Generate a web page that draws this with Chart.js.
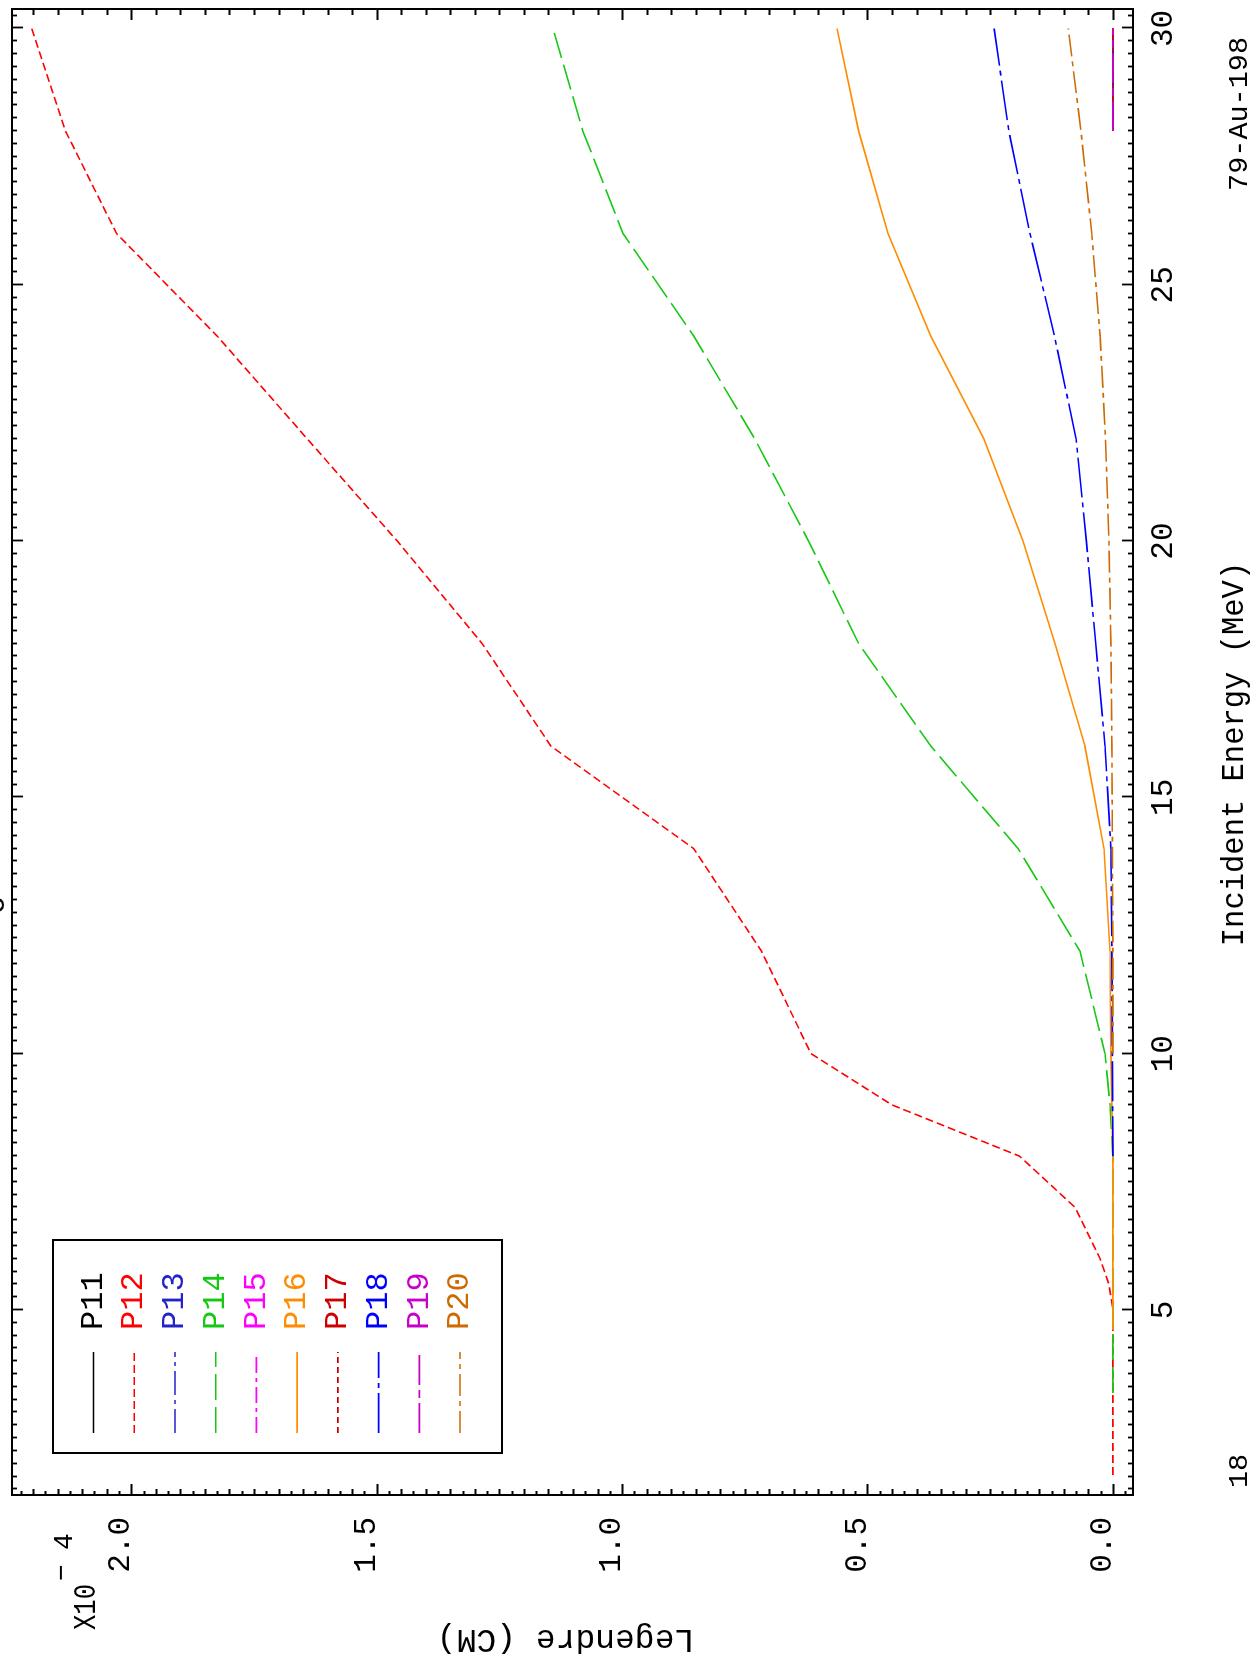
<!DOCTYPE html>
<html>
<head>
<meta charset="utf-8">
<title>Legendre (CM) vs Incident Energy</title>
<script src="https://cdn.jsdelivr.net/npm/chart.js@4"></script>
<style>
  html, body { margin: 0; padding: 0; background: #fff; }
  body { width: 1255px; height: 1662px; overflow: hidden; position: relative; }
  /* the plot is laid out in landscape and turned a quarter turn onto the portrait page */
  #wrap { position: absolute; left: 0; top: 0; width: 1662px; height: 1255px;
          transform-origin: 0 0; transform: translate(0, 1662px) rotate(-90deg); }
  canvas { display: block; }
</style>
</head>
<body>
<div id="wrap"><canvas id="c" width="1662" height="1255"></canvas></div>
<script>
// ---- data: Legendre coefficients (units of 1e-4) vs incident energy (MeV) ----
const seriesNames = ['P11', 'P12', 'P13', 'P14', 'P15', 'P16', 'P17', 'P18', 'P19', 'P20'];

const p11E = [28, 30];
const p11V = [0, 0];

const p12E = [1.78, 5, 5.5, 6, 7, 8, 9, 10, 12, 14, 16, 18, 20, 22, 24, 26, 28, 30];
const p12V = [0, 0, 0.008, 0.026, 0.077, 0.19, 0.45, 0.615, 0.716, 0.854, 1.145, 1.285, 1.458, 1.642, 1.825, 2.03, 2.134, 2.203];

const p13E = [28, 30];
const p13V = [0, 0];

const p14E = [3.38, 8, 9, 10, 12, 14, 16, 18, 20, 22, 24, 26, 28, 30];
const p14V = [0, 0, 0.006, 0.016, 0.067, 0.193, 0.371, 0.518, 0.62, 0.73, 0.854, 0.998, 1.08, 1.141];

const p15E = [28, 30];
const p15V = [0, 0];

const p16E = [4.61, 8, 10, 12, 14, 16, 18, 20, 22, 24, 26, 28, 30];
const p16V = [0, 0, 0.004, 0.006, 0.018, 0.057, 0.118, 0.183, 0.263, 0.371, 0.458, 0.518, 0.562];

const p17E = [28, 30];
const p17V = [0, 0];

const p18E = [8, 10, 12, 14, 16, 18, 20, 22, 24, 26, 28, 30];
const p18V = [0, 0.001, 0.002, 0.004, 0.016, 0.035, 0.054, 0.075, 0.119, 0.169, 0.212, 0.242];

const p19E = [28, 30];
const p19V = [0, 0];

const p20E = [10, 12, 14, 16, 18, 20, 22, 24, 26, 28, 30];
const p20V = [0, 0, 0.001, 0.002, 0.004, 0.008, 0.015, 0.026, 0.043, 0.065, 0.091];

const energyTicks = [5, 10, 15, 20, 25, 30];
const legendreTicks = [0.0, 0.5, 1.0, 1.5, 2.0];

// ---- styling ----
const FONT = '"Liberation Mono", "Courier New", monospace';
const seriesColors = ['#000000', '#ff0000', '#2323c8', '#14c814', '#ff00ff',
                      '#ff8c00', '#cc0000', '#0000ff', '#c800c8', '#cd6a00'];
const seriesDashes = [[], [8, 4], [24, 5, 4, 5], [26, 7], [16, 5, 4, 5],
                      [], [6, 4], [40, 5, 5, 5], [30, 5, 8, 5], [22, 5, 5, 5]];

const allE = [p11E, p12E, p13E, p14E, p15E, p16E, p17E, p18E, p19E, p20E];
const allV = [p11V, p12V, p13V, p14V, p15V, p16V, p17V, p18V, p19V, p20V];

const datasets = seriesNames.map((name, i) => ({
  label: name,
  data: allE[i].map((e, k) => ({ x: e, y: allV[i][k] })),
  borderColor: seriesColors[i],
  backgroundColor: seriesColors[i],
  borderDash: seriesDashes[i],
  borderWidth: 1.6,
  pointRadius: 0,
  fill: false,
  tension: 0,
  order: seriesNames.length - i   // later curves are painted over earlier ones
}));

// frame, inward ticks on all four sides, titles and the legend box
const decorations = {
  id: 'decorations',
  afterDatasetsDraw(chart) {
    const ctx = chart.ctx;
    const a = chart.chartArea;
    const xs = chart.scales.x, ys = chart.scales.y;
    ctx.save();
    ctx.strokeStyle = '#000';
    ctx.fillStyle = '#000';

    // ticks along the energy axis (bottom and top edges)
    ctx.lineWidth = 1.8;
    ctx.beginPath();
    for (let k = Math.ceil(xs.min / 0.25); k * 0.25 <= xs.max; k++) {
      const p = Math.round(xs.getPixelForValue(k * 0.25)) + 0.5;
      const len = (k % 20 === 0) ? 11 : 5;
      ctx.moveTo(p, a.bottom); ctx.lineTo(p, a.bottom - len);
      ctx.moveTo(p, a.top); ctx.lineTo(p, a.top + len);
    }
    // ticks along the Legendre axis (left and right edges)
    for (let k = Math.ceil(ys.min / 0.025); k * 0.025 <= ys.max; k++) {
      const p = Math.round(ys.getPixelForValue(k * 0.025)) + 0.5;
      const major = (k % 20 === 0);
      const mid = (k % 2 === 0);
      const lenL = major ? 11 : (mid ? 6 : 4);
      ctx.moveTo(a.left, p); ctx.lineTo(a.left + lenL, p);
      if (mid) {
        const lenR = major ? 11 : 6;
        ctx.moveTo(a.right, p); ctx.lineTo(a.right - lenR, p);
      }
    }
    ctx.stroke();

    // frame
    ctx.lineWidth = 2;
    ctx.strokeRect(a.left, a.top, a.right - a.left, a.bottom - a.top);

    // heading line, cut by the page edge
    ctx.textBaseline = 'alphabetic';
    ctx.textAlign = 'center';
    ctx.font = '31px ' + FONT;
    ctx.fillText('o', 757, 4);

    // axis titles
    ctx.font = '30.5px ' + FONT;
    ctx.fillText('Incident Energy (MeV)', (a.left + a.right) / 2 - 2, 1243);

    ctx.save();
    ctx.translate(32, 565.5);
    ctx.rotate(-Math.PI / 2);
    ctx.textAlign = 'center';
    ctx.font = '33px ' + FONT;
    ctx.fillText('Legendre (CM)', 0, 0);
    ctx.restore();

    // scale factor  X10^-4
    ctx.textAlign = 'left';
    ctx.save();
    ctx.translate(32, 95);
    ctx.scale(0.8, 1);
    ctx.font = '32px ' + FONT;
    ctx.fillText('X10', 0, 0);
    ctx.restore();
    ctx.font = '28px ' + FONT;
    ctx.fillText('\u2212', 81, 70);
    ctx.fillText('4', 112, 72);

    // footer labels
    ctx.font = '28.5px ' + FONT;
    ctx.fillText('18', 174, 1247);
    ctx.textAlign = 'right';
    ctx.fillText('79-Au-198', 1625, 1247);

    // legend box
    const bx = 209, by = 53, bw = 213, bh = 449;
    ctx.fillStyle = '#fff';
    ctx.fillRect(bx, by, bw, bh);
    ctx.lineWidth = 2;
    ctx.strokeStyle = '#000';
    ctx.strokeRect(bx, by, bw, bh);
    ctx.textAlign = 'left';
    ctx.font = '32px ' + FONT;
    chart.data.datasets.forEach((ds, i) => {
      const rowLine = 93.5 + 40.73 * i;
      ctx.strokeStyle = ds.borderColor;
      ctx.lineWidth = 1.6;
      ctx.setLineDash(ds.borderDash);
      ctx.beginPath();
      ctx.moveTo(229, rowLine);
      ctx.lineTo(310, rowLine);
      ctx.stroke();
      ctx.setLineDash([]);
      ctx.fillStyle = ds.borderColor;
      ctx.fillText(ds.label, 332, 101.7 + 40.73 * i);
    });
    ctx.restore();
  }
};

new Chart(document.getElementById('c'), {
  type: 'line',
  data: { datasets },
  options: {
    responsive: false,
    animation: false,
    devicePixelRatio: 1,
    layout: { padding: { left: 0, top: 12, right: 9, bottom: 0 } },
    plugins: { legend: { display: false }, tooltip: { enabled: false } },
    scales: {
      x: {
        type: 'linear',
        min: 1.39,
        max: 30.38,
        grid: { display: false, drawTicks: false },
        border: { display: false },
        afterBuildTicks(s) { s.ticks = energyTicks.map(v => ({ value: v })); },
        ticks: {
          color: '#000',
          font: { family: FONT, size: 31 },
          padding: 12,
          maxRotation: 0,
          autoSkip: false,
          callback: v => String(v)
        },
        afterFit(s) { s.height = 122; s.paddingLeft = 0; s.paddingRight = 0; }
      },
      y: {
        type: 'linear',
        min: -0.041,
        max: 2.243,
        grid: { display: false, drawTicks: false },
        border: { display: false },
        afterBuildTicks(s) { s.ticks = legendreTicks.map(v => ({ value: v })); },
        ticks: {
          color: '#000',
          font: { family: FONT, size: 31 },
          padding: 22,
          labelOffset: -10,
          autoSkip: false,
          callback: v => Number(v).toFixed(1)
        },
        afterFit(s) { s.width = 167; s.paddingTop = 0; s.paddingBottom = 0; }
      }
    }
  },
  plugins: [decorations]
});
</script>
</body>
</html>
